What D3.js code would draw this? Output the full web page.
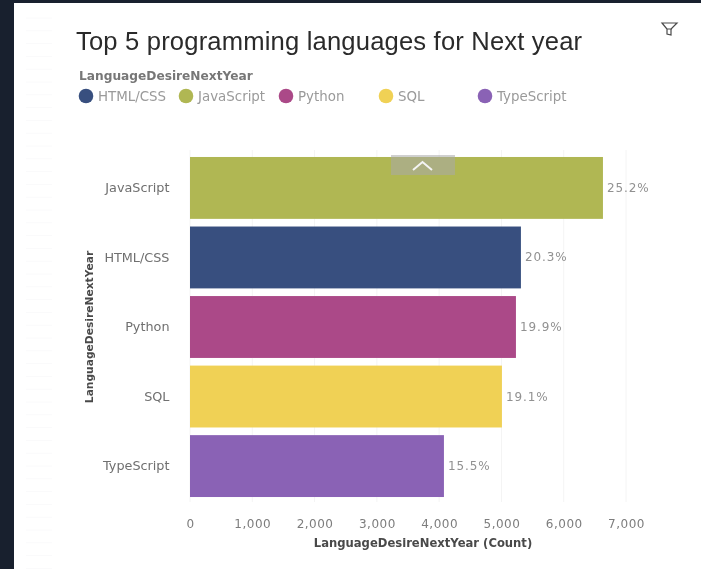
<!DOCTYPE html>
<html>
<head>
<meta charset="utf-8">
<script src="https://cdnjs.cloudflare.com/ajax/libs/d3/7.8.5/d3.min.js"></script>
<style>
html,body{margin:0;padding:0;background:#fff;overflow:hidden}
svg{display:block}
text{font-family:"DejaVu Sans",sans-serif}
</style>
</head>
<body>
<svg id="c" width="701" height="569"></svg>
<script>
const categories = ["JavaScript","HTML/CSS","Python","SQL","TypeScript"];
const counts = [6630,5313,5233,5008,4077];
const shares = ["25.2%","20.3%","19.9%","19.1%","15.5%"];
const barColors = ["#b0b753","#38507f","#ab4a88","#f0d155","#8a62b5"];
const legendNames = ["HTML/CSS","JavaScript","Python","SQL","TypeScript"];
const legendColors = ["#38507f","#b0b753","#ab4a88","#f0d155","#8a62b5"];
const xTicks = [0,1000,2000,3000,4000,5000,6000,7000];
const legendX = [86,186,286,386,485];

const svg = d3.select("#c");
const defs = svg.append("defs");
defs.append("filter").attr("id","soft").append("feGaussianBlur").attr("stdDeviation",0.5);

// page frame
svg.append("rect").attr("width",701).attr("height",569).attr("fill","#18202e");
svg.append("rect").attr("x",14).attr("y",3).attr("width",687).attr("height",566).attr("fill","#ffffff");

const g = svg.append("g").attr("filter","url(#soft)");

// faint background ruling at the left edge
g.append("g").selectAll("line").data(d3.range(18,569,12.8)).join("line")
  .attr("x1",26).attr("x2",52).attr("y1",d=>d).attr("y2",d=>d)
  .attr("stroke","#fafafb").attr("stroke-width",1);

const x = d3.scaleLinear().domain([0,7000]).range([190,626]);
const y = d3.scaleBand().domain(categories).range([153.5,500.5]).paddingInner(0.11).paddingOuter(0.05);

// gridlines
g.append("g").selectAll("line").data(xTicks).join("line")
  .attr("x1",d=>x(d)).attr("x2",d=>x(d)).attr("y1",150).attr("y2",502)
  .attr("stroke","#f4f4f4").attr("stroke-width",1);

// bars
g.append("g").selectAll("rect").data(categories).join("rect")
  .attr("x",x(0)).attr("y",d=>y(d))
  .attr("width",(d,i)=>x(counts[i])-x(0)).attr("height",y.bandwidth())
  .attr("fill",(d,i)=>barColors[i]);

// value labels
g.append("g").selectAll("text").data(categories).join("text")
  .attr("x",(d,i)=>x(counts[i])+4).attr("y",d=>y(d)+y.bandwidth()/2+4)
  .attr("font-size",12).attr("letter-spacing",0.9).attr("fill","#919191")
  .text((d,i)=>shares[i]);

// y axis
const yAxis = g.append("g").attr("transform","translate(169.5,0)")
  .call(d3.axisLeft(y).tickSize(0).tickPadding(0));
yAxis.select(".domain").remove();
yAxis.selectAll("text").attr("font-size",12.8).attr("fill","#6f6f6f")
  .style("font-family","'DejaVu Sans',sans-serif");

// x axis
const xAxis = g.append("g").attr("transform","translate(0,519)")
  .call(d3.axisBottom(x).tickValues(xTicks).tickFormat(d3.format(",")).tickSize(0).tickPadding(0));
xAxis.select(".domain").remove();
xAxis.selectAll("text").attr("font-size",12).attr("letter-spacing",0.5).attr("fill","#7d7d7d")
  .style("font-family","'DejaVu Sans',sans-serif");

// axis titles
g.append("text").attr("x",423).attr("y",547).attr("text-anchor","middle")
  .attr("font-size",11.6).attr("font-weight",700).attr("fill","#4a4a4a")
  .text("LanguageDesireNextYear (Count)");
g.append("text").attr("transform","translate(93,327) rotate(-90)").attr("text-anchor","middle")
  .attr("font-size",10.7).attr("font-weight",700).attr("fill","#4a4a4a")
  .text("LanguageDesireNextYear");

// title
g.append("text").attr("x",76).attr("y",50).attr("font-size",25.6).attr("letter-spacing",0.17).attr("fill","#2b2b2b")
  .style("font-family","'Liberation Sans',sans-serif")
  .text("Top 5 programming languages for Next year");

// legend
g.append("text").attr("x",79).attr("y",80).attr("font-size",12.2).attr("font-weight",700).attr("fill","#777")
  .text("LanguageDesireNextYear");
const lg = g.append("g").selectAll("g").data(legendNames).join("g")
  .attr("transform",(d,i)=>`translate(${legendX[i]},96)`);
lg.append("circle").attr("r",7.3).attr("fill",(d,i)=>legendColors[i]);
lg.append("text").attr("x",12).attr("y",4.5).attr("font-size",13.4).attr("fill","#9a9a9a").text(d=>d);

// collapse handle
g.append("rect").attr("x",391).attr("y",155).attr("width",64).attr("height",20).attr("fill","#a9a9a9").attr("opacity",0.55);
g.append("path").attr("d",d3.line()([[413,170],[422.5,162],[432,170]])).attr("fill","none").attr("stroke","#f4f4f4").attr("stroke-width",2);

// filter icon
g.append("path").attr("d","M662 23 H677 L671 29 V35 L667 34 V29 Z M667 29 H672").attr("fill","none").attr("stroke","#4a4a4a").attr("stroke-width",1.2);
</script>
</body>
</html>
